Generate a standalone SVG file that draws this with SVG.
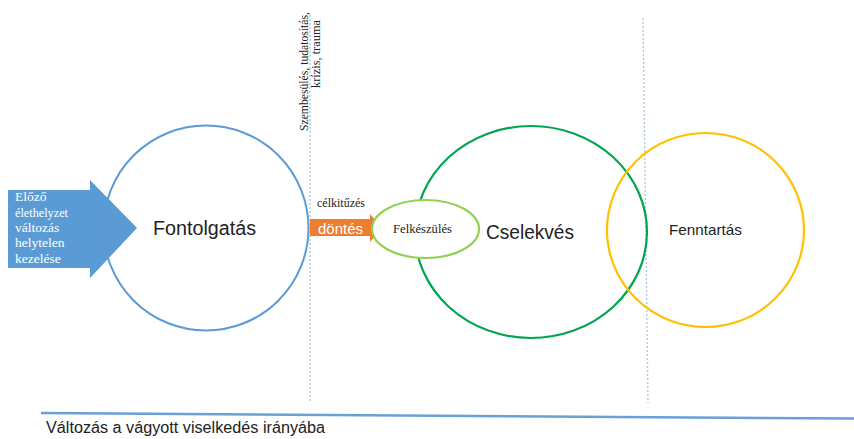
<svg xmlns="http://www.w3.org/2000/svg" width="854" height="439" viewBox="0 0 854 439">
<style>
.sans{font-family:"Liberation Sans","Open Sans",Arial,sans-serif;fill:#222}
.serif{font-family:"Liberation Serif","Times New Roman",serif;fill:#222}
.guide{stroke:#a9c4e4;stroke-width:1.3;stroke-dasharray:2 2;fill:none}
</style>
<rect width="854" height="439" fill="#ffffff"/>
<g id="guides">
<line class="guide" x1="310" y1="15" x2="310" y2="403"/>
<line class="guide" x1="643" y1="18" x2="648" y2="403"/>
</g>
<g id="connectors">
<g id="arrow-elozo">
<polygon points="8,190 90,190 90,180 137,228 90,278 90,268 8,268" fill="#5b9bd5"/>
<g class="serif" style="fill:#fff" font-size="13.5">
<text x="15" y="201">Előző</text>
<text x="15" y="216.5" textLength="53" lengthAdjust="spacingAndGlyphs">élethelyzet</text>
<text x="15" y="232">változás</text>
<text x="15" y="247">helytelen</text>
<text x="15" y="262.5">kezelése</text>
</g>
</g>
<g id="arrow-dontes">
<polygon points="310,219 370,219 370,214 382,228 370,242 370,236 310,236" fill="#ed7d31"/>
<text class="sans" x="318" y="233.5" font-size="15" style="fill:#fff" textLength="45" lengthAdjust="spacingAndGlyphs">döntés</text>
<text class="serif" x="317" y="207" font-size="12" textLength="48" lengthAdjust="spacingAndGlyphs">célkitűzés</text>
</g>
</g>
<g id="node-fontolgatas">
<circle cx="206" cy="228" r="102.5" fill="none" stroke="#5b9bd5" stroke-width="2"/>
<text class="sans" x="153" y="235" font-size="20" textLength="103" lengthAdjust="spacingAndGlyphs">Fontolgatás</text>
</g>
<g id="node-cselekves">
<ellipse cx="531" cy="232" rx="116" ry="106" fill="none" stroke="#00a550" stroke-width="2.2"/>
<text class="sans" x="486" y="239" font-size="20" textLength="88" lengthAdjust="spacingAndGlyphs">Cselekvés</text>
</g>
<g id="node-felkeszules">
<ellipse cx="425.5" cy="229" rx="53.5" ry="29" fill="#fff" stroke="#92d050" stroke-width="2.2"/>
<text class="serif" x="393" y="233" font-size="12.5" textLength="59" lengthAdjust="spacingAndGlyphs">Felkészülés</text>
</g>
<g id="node-fenntartas">
<ellipse cx="705.5" cy="230" rx="98.5" ry="97" fill="none" stroke="#ffc000" stroke-width="2.2"/>
<text class="sans" x="669" y="235" font-size="14.5" textLength="73" lengthAdjust="spacingAndGlyphs">Fenntartás</text>
</g>
<g id="label-szembesules" class="serif" font-size="13">
<text transform="translate(307.5,131) rotate(-90)" textLength="119" lengthAdjust="spacingAndGlyphs">Szembesülés, tudatosítás,</text>
<text transform="translate(320,88) rotate(-90)" textLength="68" lengthAdjust="spacingAndGlyphs">krízis, trauma</text>
</g>
<g id="axis">
<line x1="41" y1="413" x2="854" y2="418.5" stroke="#6a9fd8" stroke-width="2.5"/>
<text class="sans" x="46" y="433" font-size="16" textLength="279" lengthAdjust="spacingAndGlyphs">Változás a vágyott viselkedés irányába</text>
</g>
</svg>
